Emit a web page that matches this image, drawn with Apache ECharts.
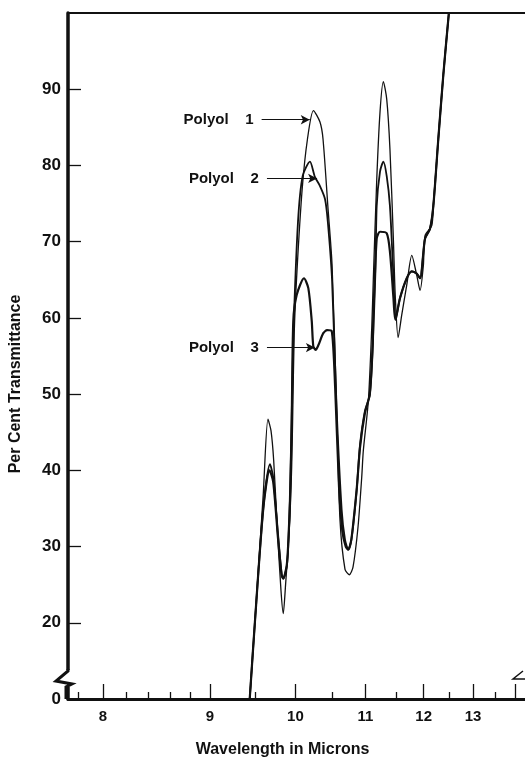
<!DOCTYPE html>
<html>
<head>
<meta charset="utf-8">
<script src="https://cdn.jsdelivr.net/npm/echarts@6/dist/echarts.min.js"></script>
<style>
html, body { margin: 0; padding: 0; background: #fff; }
#chart { width: 525px; height: 763px; }
</style>
</head>
<body>
<div id="chart"></div>
<script>
// wavelength (microns) and per cent transmittance
const wl1 = [9.44, 9.50, 9.60, 9.656, 9.693, 9.726, 9.769, 9.816, 9.845, 9.875, 9.905, 9.93, 9.952, 9.965, 9.985, 10.02, 10.09, 10.16, 10.24, 10.33, 10.372, 10.44, 10.50, 10.567, 10.615, 10.689, 10.753, 10.809, 10.886, 10.943, 10.968, 11.047, 11.101, 11.126, 11.181, 11.235, 11.29, 11.346, 11.40, 11.46, 11.49, 11.54, 11.603, 11.691, 11.781, 11.871, 11.932, 11.994, 12.025, 12.153, 12.183, 12.28, 12.38, 12.49]
const t1 = [0, 20, 37, 46.7, 45.2, 41.3, 32.6, 24.3, 21.2, 25.1, 29.6, 33.9, 40.4, 46.9, 58, 66, 77, 83.5, 87.2, 85.7, 83.5, 74.7, 67, 48, 33.5, 27, 26.3, 27.3, 32.6, 39.1, 42.6, 49.1, 58.7, 65, 78, 87, 91, 88.7, 82.2, 70, 63, 57.4, 60.4, 64.3, 68.2, 65.6, 63.6, 66.9, 70.8, 72.1, 74.7, 83.5, 92, 100]

const wl2 = [9.44, 9.50, 9.60, 9.68, 9.72, 9.78, 9.825, 9.845, 9.888, 9.906, 9.93, 9.952, 9.975, 10.034, 10.095, 10.193, 10.26, 10.33, 10.40, 10.44, 10.50, 10.567, 10.64, 10.689, 10.738, 10.785, 10.865, 10.917, 10.993, 11.07, 11.117, 11.16, 11.181, 11.235, 11.29, 11.346, 11.40, 11.45, 11.50, 11.573, 11.691, 11.781, 11.871, 11.932, 12.025, 12.119, 12.183, 12.28, 12.38, 12.49]
const t2 = [0, 20, 35, 40.8, 39.1, 31.6, 26.4, 25.8, 27.3, 29.6, 36.1, 46.9, 58, 72.6, 78.6, 80.5, 78.5, 77.3, 75.6, 72.6, 65, 47.8, 34.8, 30.9, 29.6, 30.9, 37.4, 43.4, 47.8, 49.9, 56.4, 66, 74.7, 79.2, 80.5, 78.6, 74.7, 67, 59.7, 62.6, 65.2, 66.1, 65.8, 65.2, 70.4, 71.7, 74.7, 83.5, 92, 100]

const wl3 = [9.44, 9.50, 9.60, 9.675, 9.72, 9.78, 9.825, 9.845, 9.888, 9.906, 9.93, 9.952, 9.973, 10.017, 10.113, 10.171, 10.217, 10.238, 10.27, 10.307, 10.376, 10.43, 10.495, 10.545, 10.60, 10.65, 10.70, 10.738, 10.785, 10.865, 10.917, 10.993, 11.07, 11.117, 11.126, 11.181, 11.235, 11.346, 11.40, 11.46, 11.49, 11.573, 11.691, 11.781, 11.871, 11.932, 12.025, 12.119, 12.183, 12.28, 12.38, 12.49]
const t3 = [0, 20, 35, 40, 38.5, 31, 26.2, 25.8, 27.5, 30, 36, 46, 59.6, 63, 65.2, 63.9, 59.6, 56.3, 55.8, 56.4, 58, 58.4, 58.3, 50.8, 38, 32, 30, 29.6, 31, 37.5, 43, 47.5, 50, 56.5, 60, 70.4, 71.3, 71.1, 68.7, 62.6, 59.8, 62.6, 65.2, 66.1, 65.8, 65.2, 70.4, 71.7, 74.7, 83.5, 92, 100]

const seriesNames = ['Polyol    1', 'Polyol    2', 'Polyol    3']
const lineWidths = [1.3, 1.8, 2.2]
const arrowFrom = [9.58, 9.644, 9.644]
const arrowTo = [10.19, 10.29, 10.26]
const arrowLevel = [86, 78.3, 56.1]

const majorTicks = [8, 9, 10, 11, 12, 13, 14]
const labelTicks = [8, 9, 10, 11, 12, 13]
const minorTicks = [7.8, 8.2, 8.4, 8.6, 8.8, 9.5, 10.5, 11.5, 12.5, 13.5]
const yLabels = [0, 20, 30, 40, 50, 60, 70, 80, 90]
const yTicks = [20, 30, 40, 50, 60, 70, 80, 90]

// x axis is linear in wavenumber (cm-1), labelled in microns
const toWn = w => 10000 / w
// broken y axis: 0..20 squeezed into the space of 10 units
const toDisp = t => t < 20 ? 10 + t / 2 : t
const fromDisp = d => d < 20 ? (d - 10) * 2 : d

const xMin = toWn(14.25)
const xMax = toWn(7.72)

const font = { fontFamily: 'Liberation Sans', fontWeight: 'bold', color: '#111' }

let chart = echarts.init(document.getElementById('chart'))

const allWl = [wl1, wl2, wl3]
const allT = [t1, t2, t3]

chart.setOption({
    animation: false,
    backgroundColor: '#fff',
    grid: { left: 68, right: 0, top: 13, bottom: 60 },
    xAxis: [
        {
            type: 'value', position: 'bottom', inverse: true, min: xMin, max: xMax,
            name: 'Wavelength in Microns', nameLocation: 'middle', nameGap: 43,
            nameTextStyle: { ...font, fontSize: 16, padding: [0, 28, 0, 0] },
            axisLine: { lineStyle: { color: '#111', width: 3 } },
            axisTick: { inside: true, length: 15, lineStyle: { color: '#111', width: 1.3 }, customValues: majorTicks.map(toWn) },
            axisLabel: { ...font, fontSize: 15, margin: 10, customValues: labelTicks.map(toWn), formatter: v => Math.round(10000 / v) },
            splitLine: { show: false }
        },
        {
            type: 'value', position: 'bottom', inverse: true, min: xMin, max: xMax,
            axisLine: { show: false },
            axisTick: { inside: true, length: 7, lineStyle: { color: '#111', width: 1.3 }, customValues: minorTicks.map(toWn) },
            axisLabel: { show: false },
            splitLine: { show: false }
        },
        {
            type: 'value', position: 'top', inverse: true, min: xMin, max: xMax,
            axisLine: { lineStyle: { color: '#111', width: 2 } },
            axisTick: { show: false },
            axisLabel: { show: false },
            splitLine: { show: false }
        }
    ],
    yAxis: {
        type: 'value', min: 10, max: 100,
        name: 'Per Cent Transmittance', nameLocation: 'middle', nameGap: 44,
        nameTextStyle: { ...font, fontSize: 16, padding: [0, 56, 0, 0] },
        axisLine: { lineStyle: { color: '#111', width: 3.5 } },
        axisTick: { inside: true, length: 13, lineStyle: { color: '#111', width: 1.3 }, customValues: yTicks.map(toDisp) },
        axisLabel: { ...font, fontSize: 17, margin: 7, customValues: yLabels.map(toDisp), formatter: v => Math.round(fromDisp(v)) },
        splitLine: { show: false }
    },
    series: seriesNames.map((name, i) => ({
        name: name,
        type: 'line',
        showSymbol: false,
        smooth: 0.25,
        lineStyle: { color: '#111', width: lineWidths[i] },
        data: allWl[i].map((w, j) => [toWn(w), toDisp(allT[i][j])]),
        markLine: {
            silent: true,
            symbol: ['none', 'arrow'],
            symbolSize: [7, 9],
            lineStyle: { color: '#111', width: 1.2, type: 'solid' },
            label: { ...font, fontSize: 15, position: 'start', distance: 8, formatter: name },
            data: [[
                { coord: [toWn(arrowFrom[i]), arrowLevel[i]] },
                { coord: [toWn(arrowTo[i]), arrowLevel[i]] }
            ]]
        }
    }))
})

// break mark on the y axis and the cut mark at the right end of the x axis
const origin = chart.convertToPixel({ gridIndex: 0 }, [xMax, 10])
const corner = chart.convertToPixel({ gridIndex: 0 }, [xMin, 10])
const ox = origin[0], oy = origin[1]
chart.setOption({
    graphic: [
        { type: 'rect', shape: { x: ox - 4, y: oy - 29, width: 9, height: 17 }, style: { fill: '#fff' }, z: 100 },
        { type: 'polyline', shape: { points: [[ox, oy - 30], [ox, oy - 28], [ox - 12, oy - 18], [ox + 4, oy - 15], [ox - 2, oy - 12], [ox - 2, oy]] }, style: { stroke: '#111', lineWidth: 3, fill: null }, z: 101 },
        { type: 'polyline', shape: { points: [[corner[0], oy - 20], [corner[0] - 12, oy - 20], [corner[0] - 2, oy - 28]] }, style: { stroke: '#111', lineWidth: 1.5, fill: null }, z: 101 }
    ]
})
</script>
</body>
</html>
